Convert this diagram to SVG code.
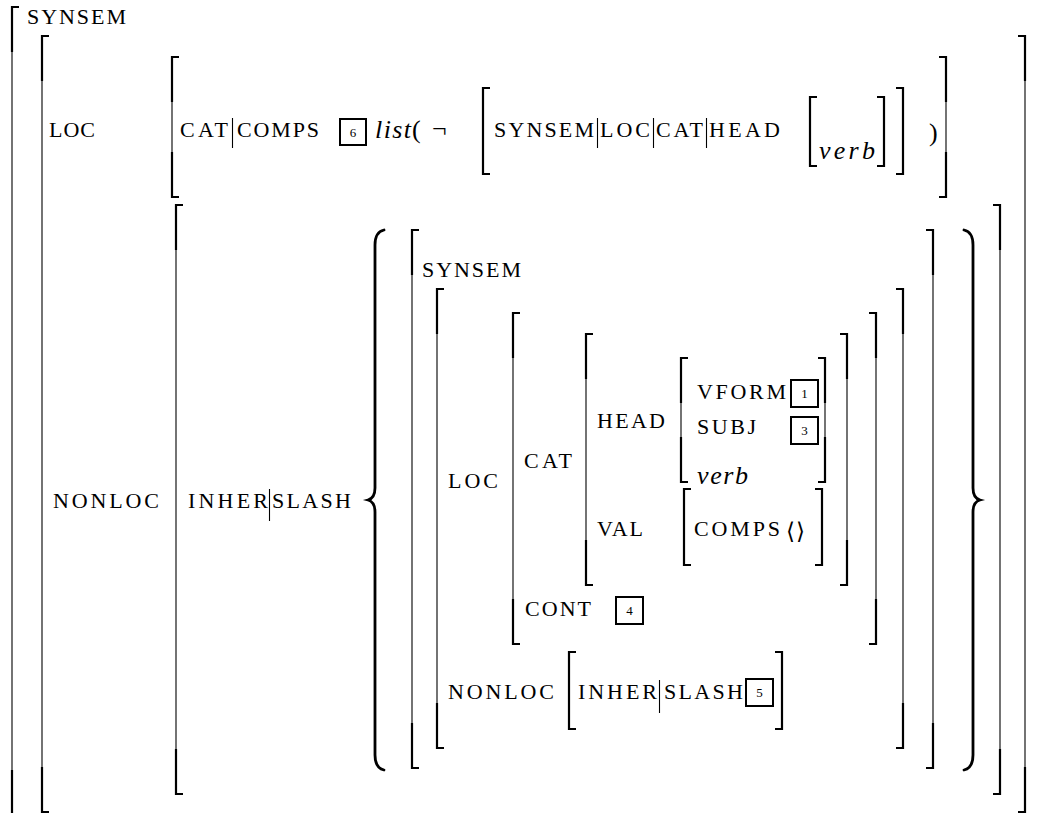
<svg xmlns="http://www.w3.org/2000/svg" width="1054" height="813" viewBox="0 0 1054 813">
<style>
.sc{font-family:"Liberation Serif","DejaVu Serif",serif;font-size:22px;fill:#000}
.it{font-family:"Liberation Serif","DejaVu Serif",serif;font-style:italic;font-size:26px;fill:#000}
.rm{font-family:"Liberation Serif","DejaVu Serif",serif;font-size:26px;fill:#000}
.n{font-family:"Liberation Serif","DejaVu Serif",serif;font-size:13px;text-anchor:middle;fill:#000}
.k{fill:none;stroke:#000;stroke-width:2.2;stroke-linejoin:miter;stroke-linecap:butt}
.t{fill:none;stroke:#000;stroke-width:1.1}
.bx{fill:#fff;stroke:#000;stroke-width:2}
.br{fill:none;stroke:#000;stroke-width:2.8;stroke-linecap:round}
.bar{stroke:#000;stroke-width:1.1}
</style>
<rect width="1054" height="813" fill="#fff"/>

<g id="outer">
  <path class="k" d="M19 7H12V52"/><path class="t" d="M12 52V770"/><path class="k" d="M12 770V813"/>
  <text class="sc" x="27" y="24" textLength="99">SYNSEM</text>
  <path class="k" d="M49 36H42V81"/><path class="t" d="M42 81V767"/><path class="k" d="M42 767V812H49"/>
  <path class="k" d="M1018 36H1025V81"/><path class="t" d="M1025 81V767"/><path class="k" d="M1025 767V812H1018"/>
</g>

<g id="loc-row">
  <text class="sc" x="49" y="137" textLength="46">LOC</text>
  <path class="k" d="M179 57H172V102"/><path class="t" d="M172 102V152"/><path class="k" d="M172 152V197H179"/>
  <path class="k" d="M939 57H946V102"/><path class="t" d="M946 102V152"/><path class="k" d="M946 152V197H939"/>
  <text class="sc" x="180" y="137" textLength="48">CAT</text>
  <line class="bar" x1="232.5" y1="118" x2="232.5" y2="148"/>
  <text class="sc" x="237" y="137" textLength="82">COMPS</text>
  <rect class="bx" x="340" y="119" width="26" height="26"/><text class="n" x="353" y="137">6</text>
  <text class="it" x="375" y="138" textLength="36">list</text>
  <text class="rm" x="412" y="138">(</text>
  <text class="rm" x="432" y="137">¬</text>
  <path class="k" d="M490 88H483V174H490"/>
  <text class="sc" x="494" y="137" textLength="100">SYNSEM</text>
  <line class="bar" x1="597.5" y1="118" x2="597.5" y2="148"/>
  <text class="sc" x="600" y="137" textLength="50">LOC</text>
  <line class="bar" x1="653.5" y1="118" x2="653.5" y2="148"/>
  <text class="sc" x="656" y="137" textLength="47">CAT</text>
  <line class="bar" x1="706.5" y1="118" x2="706.5" y2="148"/>
  <text class="sc" x="709" y="137" textLength="71">HEAD</text>
  <path class="k" d="M817 97H810V166H817"/>
  <text class="it" x="819" y="159" textLength="56">verb</text>
  <path class="k" d="M877 97H884V166H877"/>
  <path class="k" d="M896 88H903V174H896"/>
  <text class="rm" x="929" y="141">)</text>
</g>

<g id="nonloc-row">
  <text class="sc" x="53" y="508" textLength="106">NONLOC</text>
  <path class="k" d="M183 205H176V250"/><path class="t" d="M176 250V749"/><path class="k" d="M176 749V794H183"/>
  <path class="k" d="M993 205H1000V250"/><path class="t" d="M1000 250V749"/><path class="k" d="M1000 749V794H993"/>
  <text class="sc" x="188" y="508" textLength="80">INHER</text>
  <line class="bar" x1="269.5" y1="489" x2="269.5" y2="521"/>
  <text class="sc" x="272" y="508" textLength="79">SLASH</text>
  <path class="br" d="M384 230Q375 232 375 245L375 488Q375 498 368 500Q375 502 375 512L375 755Q375 768 384 770"/>
  <path class="br" d="M964 230Q973 232 973 245L973 488Q973 498 980 500Q973 502 973 512L973 755Q973 768 964 770"/>
</g>

<g id="synsem-elem">
  <path class="k" d="M419 230H412V275"/><path class="t" d="M412 275V723"/><path class="k" d="M412 723V768H419"/>
  <path class="k" d="M926 230H933V275"/><path class="t" d="M933 275V723"/><path class="k" d="M933 723V768H926"/>
  <text class="sc" x="422" y="277" textLength="99">SYNSEM</text>
  <path class="k" d="M444 289H437V334"/><path class="t" d="M437 334V703"/><path class="k" d="M437 703V748H444"/>
  <path class="k" d="M896 289H903V334"/><path class="t" d="M903 334V703"/><path class="k" d="M903 703V748H896"/>
</g>

<g id="inner-loc">
  <text class="sc" x="448" y="488" textLength="50">LOC</text>
  <path class="k" d="M520 313H513V358"/><path class="t" d="M513 358V599"/><path class="k" d="M513 599V644H520"/>
  <path class="k" d="M869 313H876V358"/><path class="t" d="M876 358V599"/><path class="k" d="M876 599V644H869"/>
  <text class="sc" x="524" y="468" textLength="48">CAT</text>
  <path class="k" d="M593 334H586V379"/><path class="t" d="M586 379V540"/><path class="k" d="M586 540V585H593"/>
  <path class="k" d="M840 334H847V379"/><path class="t" d="M847 379V540"/><path class="k" d="M847 540V585H840"/>
  <text class="sc" x="597" y="428" textLength="68">HEAD</text>
  <path class="k" d="M688 358H681V403"/><path class="t" d="M681 403V437"/><path class="k" d="M681 437V482H688"/>
  <path class="k" d="M818 358H825V403"/><path class="t" d="M825 403V437"/><path class="k" d="M825 437V482H818"/>
  <text class="sc" x="697" y="399" textLength="89">VFORM</text>
  <rect class="bx" x="791" y="380" width="27" height="27"/><text class="n" x="804.5" y="398">1</text>
  <text class="sc" x="697" y="434" textLength="59">SUBJ</text>
  <rect class="bx" x="791" y="417" width="27" height="27"/><text class="n" x="804.5" y="435">3</text>
  <text class="it" x="697" y="484" textLength="51">verb</text>
  <text class="sc" x="597" y="536" textLength="46">VAL</text>
  <path class="k" d="M691 489H684V565H691"/>
  <path class="k" d="M815 489H822V565H815"/>
  <text class="sc" x="694" y="536" textLength="86">COMPS</text>
  <text x="786" y="539" style="font-family:'DejaVu Serif','DejaVu Sans',serif;font-size:23px" textLength="19">⟨⟩</text>
  <text class="sc" x="525" y="616" textLength="66">CONT</text>
  <rect class="bx" x="616" y="597" width="27" height="27"/><text class="n" x="629.5" y="615">4</text>
</g>

<g id="inner-nonloc">
  <text class="sc" x="448" y="699" textLength="106">NONLOC</text>
  <path class="k" d="M576 652H569V729H576"/>
  <path class="k" d="M775 652H782V729H775"/>
  <text class="sc" x="578" y="699" textLength="79">INHER</text>
  <line class="bar" x1="659.5" y1="680" x2="659.5" y2="713"/>
  <text class="sc" x="664" y="699" textLength="79">SLASH</text>
  <rect class="bx" x="746" y="679" width="27" height="27"/><text class="n" x="759.5" y="697">5</text>
</g>
</svg>
